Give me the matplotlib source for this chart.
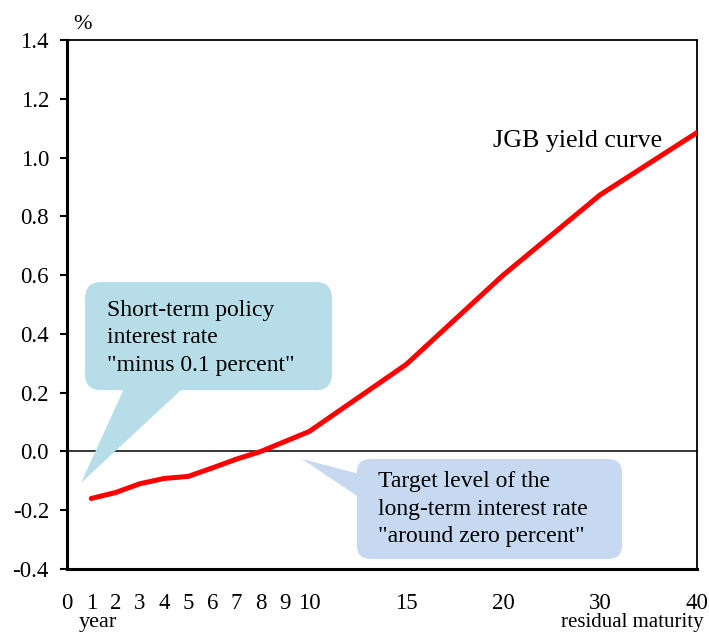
import numpy as np
import matplotlib
matplotlib.use("Agg")
import matplotlib.pyplot as plt
from matplotlib.patches import FancyBboxPatch, Polygon

maturity = [1, 2, 3, 4, 5, 6, 7, 8, 9, 10, 15, 20, 30, 40]
yields = [-0.16, -0.14, -0.11, -0.092, -0.085, -0.056, -0.026, 0.0, 0.034, 0.068,
          0.296, 0.60, 0.873, 1.085]
xticks = [0, 1, 2, 3, 4, 5, 6, 7, 8, 9, 10, 15, 20, 30, 40]
yticks = [-0.4, -0.2, 0.0, 0.2, 0.4, 0.6, 0.8, 1.0, 1.2, 1.4]

# piecewise axis: 0-10 one step per year, then 15, 20, 30, 40 evenly spread
mat_knots = [0, 10, 20, 40]
pos_knots = [0, 10, 18, 26]

def fwd(x):
    return np.interp(x, mat_knots, pos_knots)

def inv(p):
    return np.interp(p, pos_knots, mat_knots)

plt.rcParams['font.family'] = ['Liberation Serif', 'DejaVu Serif']

fig = plt.figure(figsize=(7.09, 6.35), dpi=100)
ax = fig.add_axes([67/709, 66/635, 630/709, 529/635])
ax.set_xscale('function', functions=(fwd, inv))
ax.set_xlim(0, 40)
ax.set_ylim(-0.4, 1.4)

ax.plot(maturity, yields, color='#ff0000', lw=3.6, solid_capstyle='round',
        solid_joinstyle='round', zorder=3)
ax.axhline(0, color='black', lw=1.1, zorder=2)

ax.set_xticks(xticks)
ax.set_xticklabels([str(t) for t in xticks], fontsize=16.5)
ax.set_yticks(yticks)
ax.set_yticklabels(['%.1f' % t for t in yticks], fontsize=16.5)
ax.tick_params(axis='x', length=0, pad=17)
ax.tick_params(axis='y', direction='out', length=5, width=1.5, pad=8)
ax.xaxis.set_minor_locator(matplotlib.ticker.NullLocator())

for s in ['left', 'bottom']:
    ax.spines[s].set_linewidth(2.2)
for s in ['top', 'right']:
    ax.spines[s].set_linewidth(1.3)

ax.text(0.676, 0.798, 'JGB yield curve', transform=ax.transAxes, fontsize=18.7,
        ha='left', va='baseline')

asp = 630/529

# callout 1
ax.add_patch(Polygon([(0.092, 0.345), (0.187, 0.345), (0.0222, 0.1626)], closed=True,
                     transform=ax.transAxes, facecolor='#b7dee8', edgecolor='none', zorder=4))
ax.add_patch(FancyBboxPatch((0.0286, 0.338), 0.392, 0.2045, transform=ax.transAxes,
                            boxstyle='round,pad=0,rounding_size=0.026', mutation_aspect=asp,
                            facecolor='#b7dee8', edgecolor='none', zorder=4))
ax.text(0.0635, 0.4367, 'Short-term policy\ninterest rate\n"minus 0.1 percent"',
        transform=ax.transAxes, fontsize=17, ha='left', va='center', linespacing=1.38,
        zorder=5)

# callout 2
ax.add_patch(Polygon([(0.47, 0.1777), (0.47, 0.1304), (0.373, 0.208)], closed=True,
                     transform=ax.transAxes, facecolor='#c6d9f1', edgecolor='none', zorder=4))
ax.add_patch(FancyBboxPatch((0.460, 0.0189), 0.421, 0.189, transform=ax.transAxes,
                            boxstyle='round,pad=0,rounding_size=0.022', mutation_aspect=asp,
                            facecolor='#c6d9f1', edgecolor='none', zorder=4))
ax.text(0.493, 0.1134, 'Target level of the\nlong-term interest rate\n"around zero percent"',
        transform=ax.transAxes, fontsize=17, ha='left', va='center', linespacing=1.38,
        zorder=5)

fig.text(73/709, 1 - 29/635, '%', fontsize=16, ha='left', va='baseline')
fig.text(97.5/709, 1 - 627/635, 'year', fontsize=16, ha='center', va='baseline')
fig.text(704/709, 1 - 627/635, 'residual maturity', fontsize=15, ha='right', va='baseline')

fig.savefig('out.png', dpi=100)
